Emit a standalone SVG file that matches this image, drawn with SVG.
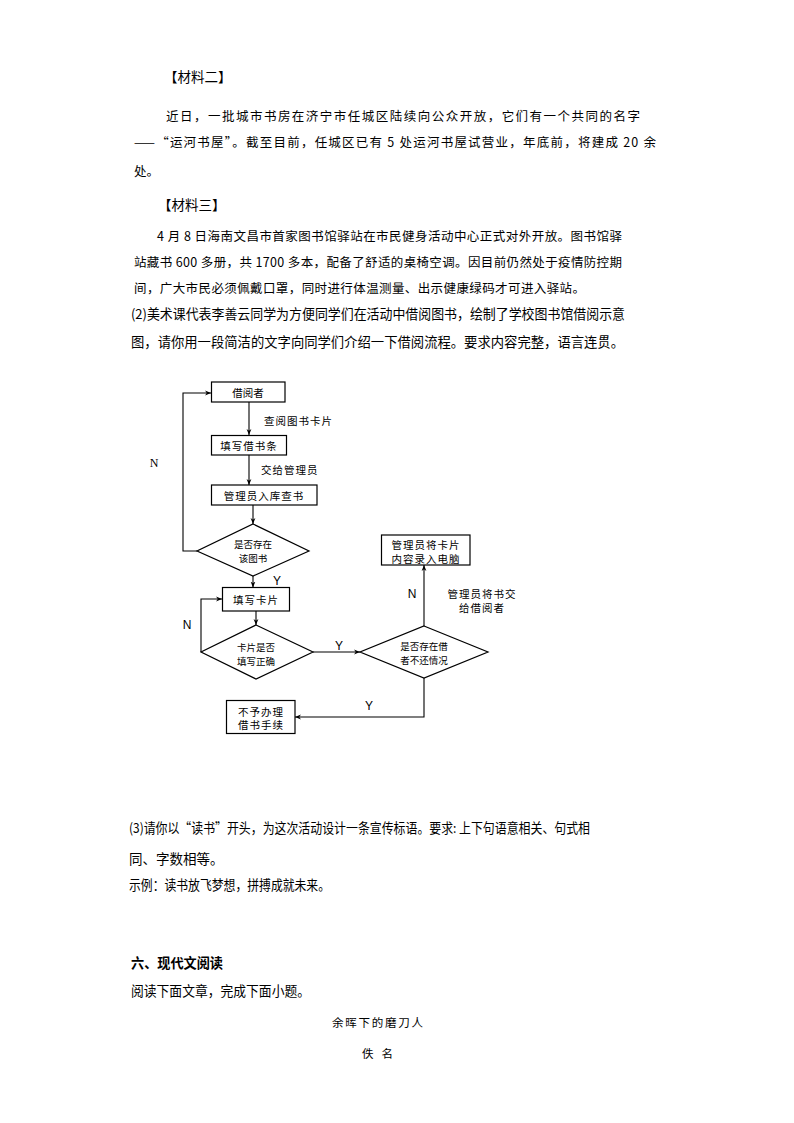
<svg xmlns="http://www.w3.org/2000/svg" width="794" height="1123" viewBox="0 0 794 1123">
<defs>
<marker id="ah" viewBox="0 0 10 10" refX="10" refY="5" markerWidth="6" markerHeight="6" orient="auto" markerUnits="userSpaceOnUse">
<path d="M0,1 L10,5 L0,9 L3,5 Z" fill="#000"/>
</marker>
<style>
.t{font-family:"Noto Sans CJK SC","Noto Sans",sans-serif;fill:#000;dominant-baseline:central}
.p{font-size:12.5px}
.b{font-size:13.5px}
.f{font-size:10.5px;text-anchor:middle}
.d{font-size:9.5px;text-anchor:middle}
.l{font-size:10.5px}
.yn{font-family:"Liberation Sans",Arial,sans-serif;font-size:12px;fill:#000;dominant-baseline:central}
.box{fill:#fff;stroke:#000;stroke-width:1.2}
.c{fill:none;stroke:#000;stroke-width:1.1}
</style>
</defs>
<rect width="794" height="1123" fill="#fff"/>

<g id="text">
<text class="t b" x="164" y="76">【材料二】</text>
<text class="t p" x="166" y="115" textLength="474" lengthAdjust="spacing">近日，一批城市书房在济宁市任城区陆续向公众开放，它们有一个共同的名字</text>
<text class="t p" x="134" y="141" textLength="522" lengthAdjust="spacing">——“运河书屋”。截至目前，任城区已有 5 处运河书屋试营业，年底前，将建成 20 余</text>
<text class="t p" x="134" y="170">处。</text>
<text class="t b" x="158" y="204">【材料三】</text>
<text class="t p" x="157" y="235" textLength="465" lengthAdjust="spacing">4 月 8 日海南文昌市首家图书馆驿站在市民健身活动中心正式对外开放。图书馆驿</text>
<text class="t p" x="134" y="261" textLength="488" lengthAdjust="spacing">站藏书 600 多册，共 1700 多本，配备了舒适的桌椅空调。因目前仍然处于疫情防控期</text>
<text class="t p" x="134" y="287" textLength="451" lengthAdjust="spacing">间，广大市民必须佩戴口罩，同时进行体温测量、出示健康绿码才可进入驿站。</text>
<text class="t b" x="131" y="313" textLength="494" lengthAdjust="spacingAndGlyphs">(2)美术课代表李善云同学为方便同学们在活动中借阅图书，绘制了学校图书馆借阅示意</text>
<text class="t b" x="131" y="341" textLength="493" lengthAdjust="spacingAndGlyphs">图，请你用一段简洁的文字向同学们介绍一下借阅流程。要求内容完整，语言连贯。</text>
<text class="t b" x="129" y="827" textLength="461" lengthAdjust="spacingAndGlyphs">(3)请你以“读书”开头，为这次活动设计一条宣传标语。要求: 上下句语意相关、句式相</text>
<text class="t b" x="129" y="858">同、字数相等。</text>
<text class="t b" x="129" y="884" textLength="201" lengthAdjust="spacingAndGlyphs">示例：读书放飞梦想，拼搏成就未来。</text>
<text class="t b" x="131" y="962" font-weight="bold" textLength="92" lengthAdjust="spacingAndGlyphs">六、现代文阅读</text>
<text class="t b" x="131" y="990" textLength="179" lengthAdjust="spacingAndGlyphs">阅读下面文章，完成下面小题。</text>
<text class="t" x="332" y="1022" font-size="11.5" textLength="91" lengthAdjust="spacing">余晖下的磨刀人</text>
<text class="t" x="362" y="1053" font-size="11.5" textLength="31" lengthAdjust="spacing">佚 名</text>
</g>

<g id="connectors">
<line class="c" x1="249" y1="402" x2="249" y2="435" marker-end="url(#ah)"/>
<line class="c" x1="249" y1="455" x2="249" y2="485" marker-end="url(#ah)"/>
<line class="c" x1="253" y1="505" x2="253" y2="524" marker-end="url(#ah)"/>
<polyline class="c" points="197,551 183,551 183,393 211,393" marker-end="url(#ah)"/>
<line class="c" x1="253" y1="576" x2="253" y2="587.5" marker-end="url(#ah)"/>
<line class="c" x1="256" y1="611" x2="256" y2="625" marker-end="url(#ah)"/>
<polyline class="c" points="201,652 201,599 222,599" marker-end="url(#ah)"/>
<line class="c" x1="313" y1="652" x2="360" y2="652" marker-end="url(#ah)"/>
<line class="c" x1="424" y1="626" x2="424" y2="565" marker-end="url(#ah)"/>
<polyline class="c" points="424,678 424,717 295,717" marker-end="url(#ah)"/>
<text class="t l" x="264" y="420" letter-spacing="1">查阅图书卡片</text>
<text class="t l" x="261" y="469" letter-spacing="1">交给管理员</text>
<text x="154" y="463" font-family="Liberation Serif,serif" font-size="12" dominant-baseline="central" text-anchor="middle">N</text>
<text class="yn" x="277" y="581" text-anchor="middle">Y</text>
<text class="yn" x="187" y="625" text-anchor="middle">N</text>
<text class="yn" x="339" y="646" text-anchor="middle">Y</text>
<text class="yn" x="412" y="594" text-anchor="middle">N</text>
<text class="yn" x="369" y="706" text-anchor="middle">Y</text>
<text class="t f" x="482" y="593" letter-spacing="1">管理员将书交</text>
<text class="t f" x="482" y="607" letter-spacing="1">给借阅者</text>
</g>

<g id="n1">
<rect class="box" x="211.5" y="382" width="73.5" height="20"/>
<text class="t f" x="248" y="392">借阅者</text>
</g>
<g id="n2">
<rect class="box" x="211.5" y="435.5" width="75" height="19.5"/>
<text class="t f" x="249" y="445" letter-spacing="1">填写借书条</text>
</g>
<g id="n3">
<rect class="box" x="211.5" y="485" width="105.5" height="20"/>
<text class="t f" x="264" y="495" letter-spacing="1">管理员入库查书</text>
</g>
<g id="d1">
<polygon class="box" points="253,524 309,551 253,576 197,551"/>
<text class="t d" x="253" y="544">是否存在</text>
<text class="t d" x="253" y="558">该图书</text>
</g>
<g id="n4">
<rect class="box" x="222.5" y="587.5" width="67" height="23.5"/>
<text class="t f" x="256" y="599" letter-spacing="1">填写卡片</text>
</g>
<g id="d2">
<polygon class="box" points="256,625 313,652 256,679 201,652"/>
<text class="t d" x="256" y="647">卡片是否</text>
<text class="t d" x="256" y="661">填写正确</text>
</g>
<g id="d3">
<polygon class="box" points="424,626 488,652 424,678 360,652"/>
<text class="t d" x="424" y="646">是否存在借</text>
<text class="t d" x="424" y="660">者不还情况</text>
</g>
<g id="n5">
<rect class="box" x="381.5" y="535" width="88.5" height="30"/>
<text class="t f" x="426" y="544" letter-spacing="1">管理员将卡片</text>
<text class="t f" x="426" y="558" letter-spacing="1">内容录入电脑</text>
</g>
<g id="n6">
<rect class="box" x="226.5" y="700.5" width="68.5" height="33"/>
<text class="t f" x="261" y="711.5" letter-spacing="1">不予办理</text>
<text class="t f" x="261" y="724.5" letter-spacing="1">借书手续</text>
</g>
</svg>
